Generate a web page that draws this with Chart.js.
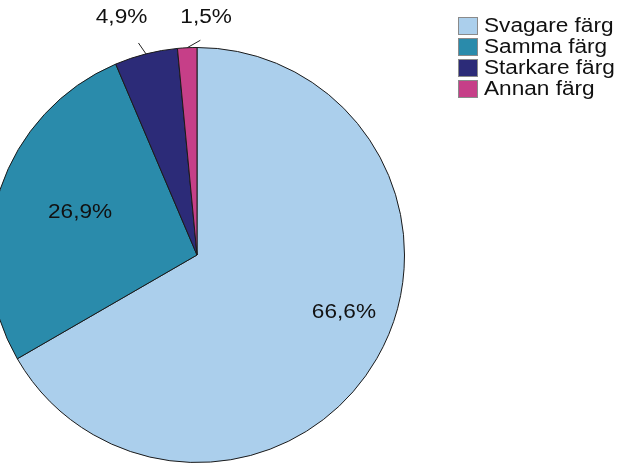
<!DOCTYPE html>
<html>
<head>
<meta charset="utf-8">
<script src="https://cdn.jsdelivr.net/npm/chart.js@4"></script>
<style>
html,body{margin:0;padding:0;background:#fff;overflow:hidden;}
#wrap{position:absolute;left:-12px;top:0;width:630px;height:476px;}
</style>
</head>
<body>
<div id="wrap"><canvas id="c" width="630" height="476"></canvas></div>
<script>
const categories = ["Svagare färg", "Samma färg", "Starkare färg", "Annan färg"];
const values = [66.6, 26.9, 4.9, 1.5];
const valueLabels = ["66,6%", "26,9%", "4,9%", "1,5%"];
const colors = ["#abcfec", "#2a8bab", "#2c2b78", "#c63f88"];

const OX = 12; // canvas offset relative to page
const FONT = '19.5px "Liberation Sans", Arial, sans-serif';
const SX = 1.16;

function drawText(ctx, text, x, y, align) {
  ctx.save();
  ctx.font = FONT;
  ctx.textBaseline = 'middle';
  const w = ctx.measureText(text).width * SX;
  let x0 = x;
  if (align === 'center') x0 = x - w / 2;
  ctx.translate(x0, y);
  ctx.scale(SX, 1);
  ctx.textAlign = 'left';
  ctx.fillStyle = '#111';
  ctx.fillText(text, 0, 0);
  ctx.restore();
}

// label placement: [inside?, radius fraction, angle shift (deg)]
const labelPlace = [
  {inside: true, frac: 0.76, shift: -8.7},
  {inside: true, frac: 0.60, shift: 1.6},
  {inside: false, frac: 1.20, shift: -3.4, lead: [1.0, 1.06, -1.2]},
  {inside: false, frac: 1.145, shift: 4.9, lead: [1.0, 1.035, 3.6]}
];

const labelPlugin = {
  id: 'labels',
  afterDatasetsDraw(chart) {
    const ctx = chart.ctx;
    const meta = chart.getDatasetMeta(0);
    meta.data.forEach((arc, i) => {
      const p = arc.getProps(['x','y','startAngle','endAngle','outerRadius'], true);
      const mid = (p.startAngle + p.endAngle) / 2;
      const lp = labelPlace[i];
      const a = mid + lp.shift * Math.PI / 180;
      const lx = p.x + Math.cos(a) * p.outerRadius * lp.frac;
      const ly = p.y + Math.sin(a) * p.outerRadius * lp.frac;
      if (!lp.inside) {
        const a2 = mid + lp.lead[2] * Math.PI / 180;
        ctx.save();
        ctx.strokeStyle = '#222';
        ctx.lineWidth = 1;
        ctx.beginPath();
        ctx.moveTo(p.x + Math.cos(mid) * p.outerRadius * lp.lead[0], p.y + Math.sin(mid) * p.outerRadius * lp.lead[0]);
        ctx.lineTo(p.x + Math.cos(a2) * p.outerRadius * lp.lead[1], p.y + Math.sin(a2) * p.outerRadius * lp.lead[1]);
        ctx.stroke();
        ctx.restore();
      }
      drawText(ctx, valueLabels[i], lx, ly, 'center');
    });
  }
};

const legendPlugin = {
  id: 'customLegend',
  afterDraw(chart) {
    const ctx = chart.ctx;
    const boxX = 458 + OX, boxW = 20, boxH = 18, textX = 484 + OX;
    const rowY = [26, 47, 68, 89];
    categories.forEach((c, i) => {
      ctx.save();
      ctx.fillStyle = colors[i];
      ctx.fillRect(boxX, rowY[i] - boxH / 2, boxW, boxH);
      ctx.strokeStyle = '#8a8a8a';
      ctx.lineWidth = 1;
      ctx.strokeRect(boxX + 0.5, rowY[i] - boxH / 2 + 0.5, boxW - 1, boxH - 1);
      ctx.restore();
      drawText(ctx, c, textX, rowY[i] + 1, 'left');
    });
  }
};

new Chart(document.getElementById('c'), {
  type: 'pie',
  data: {
    labels: categories,
    datasets: [{
      data: values,
      backgroundColor: colors,
      borderColor: '#1a1a1a',
      borderWidth: 1
    }]
  },
  options: {
    responsive: false,
    animation: false,
    layout: {padding: {left: 1, right: 213, top: 47, bottom: 13}},
    plugins: {legend: {display: false}, tooltip: {enabled: false}}
  },
  plugins: [labelPlugin, legendPlugin]
});
</script>
</body>
</html>
